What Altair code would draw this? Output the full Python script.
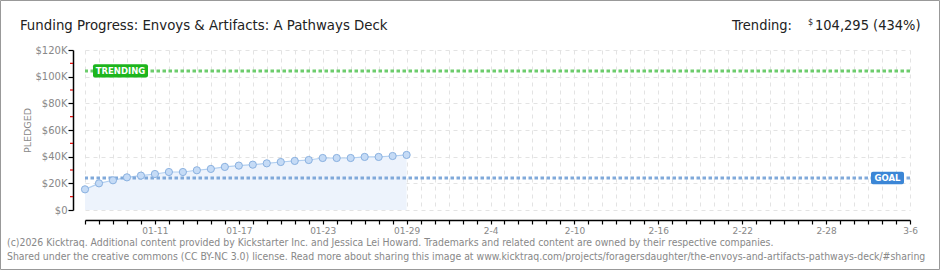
import altair as alt
import pandas as pd
from datetime import datetime, timedelta, timezone

# ---------------- data ----------------
DATES = ["2026-01-06", "2026-01-07", "2026-01-08", "2026-01-09", "2026-01-10", "2026-01-11",
         "2026-01-12", "2026-01-13", "2026-01-14", "2026-01-15", "2026-01-16", "2026-01-17",
         "2026-01-18", "2026-01-19", "2026-01-20", "2026-01-21", "2026-01-22", "2026-01-23",
         "2026-01-24", "2026-01-25", "2026-01-26", "2026-01-27", "2026-01-28", "2026-01-29"]
PLEDGED = [15500, 20000, 22300, 24500, 25800, 27000, 28500, 28500, 29800, 30800, 32300, 33300,
           34000, 35000, 36000, 36800, 37500, 39000, 39000, 39000, 39800, 39800, 40500, 41300]
GOAL = [24000]
TRENDING = [104295]
TRENDING_TEXT = ["104,295 (434%)"]

X_START = (2026, 1, 6)
X_END = (2026, 3, 6)
X_LABEL_DATES = [(2026, 1, 11), (2026, 1, 17), (2026, 1, 23), (2026, 1, 29), (2026, 2, 4),
                 (2026, 2, 10), (2026, 2, 16), (2026, 2, 22), (2026, 2, 28), (2026, 3, 6)]
X_LABELS = ["01-11", "01-17", "01-23", "01-29", "2-4", "2-10", "2-16", "2-22", "2-28", "3-6"]
Y_TICKS = [0, 20000, 40000, 60000, 80000, 100000, 120000]
Y_MINOR = [10000, 30000, 50000, 70000, 90000, 110000]
Y_LABELS = ["$0", "$20K", "$40K", "$60K", "$80K", "$100K", "$120K"]

TITLE = "Funding Progress: Envoys & Artifacts: A Pathways Deck"
FOOTER_1 = ("(c)2026 Kicktraq. Additional content provided by Kickstarter Inc. and Jessica Lei Howard. "
            "Trademarks and related content are owned by their respective companies.")
FOOTER_2 = ("Shared under the creative commons (CC BY-NC 3.0) license. Read more about sharing this image at "
            "www.kicktraq.com/projects/foragersdaughter/the-envoys-and-artifacts-pathways-deck/#sharing")

# ---------------- helpers ----------------
FONT = "DejaVu Sans"
COND_FONT = "DejaVu Sans Condensed"


def dt(t):
    return alt.DateTime(year=t[0], month=t[1], date=t[2], utc=True)


def ms(t):
    return int(datetime(t[0], t[1], t[2], tzinfo=timezone.utc).timestamp() * 1000)


start = datetime(*X_START, tzinfo=timezone.utc)
end = datetime(*X_END, tzinfo=timezone.utc)
day_ticks = []
d = start
while d <= end:
    day_ticks.append(dt((d.year, d.month, d.day)))
    d += timedelta(days=1)

ms_js = "[" + ",".join(str(ms(t)) for t in X_LABEL_DATES) + "]"
lab_js = "[" + ",".join("'" + s + "'" for s in X_LABELS) + "]"
x_label_expr = f"indexof({ms_js}, time(datum.value)) >= 0 ? {lab_js}[indexof({ms_js}, time(datum.value))] : ''"
ylab_js = "[" + ",".join("'" + s + "'" for s in Y_LABELS) + "]"
y_label_expr = f"{ylab_js}[round(datum.value / 20000)]"

x_scale = alt.Scale(type="utc", domain=[dt(X_START), dt(X_END)])
y_scale = alt.Scale(domain=[0, 120000], nice=False, zero=True)

x_axis = alt.Axis(
    values=day_ticks, labelExpr=x_label_expr, title=None,
    offset=10, domainColor="#000", domainWidth=1.5,
    tickColor="#000", tickSize=4, tickWidth=1.2,
    labelFont=FONT, labelFontSize=9, labelColor="#888", labelPadding=2,
    labelAngle=0, labelAlign="center", labelOverlap=False, labelFlush=False,
    grid=True, gridColor="#e3e3e3", gridDash=[4, 4], gridWidth=1,
)
y_axis = alt.Axis(
    values=Y_TICKS, labelExpr=y_label_expr, title="PLEDGED",
    offset=12, domainColor="#000", domainWidth=1.5,
    tickColor="#000", tickSize=5, tickWidth=1.2,
    labelFont=FONT, labelFontSize=10, labelColor="#888", labelPadding=1,
    grid=True, gridColor="#e3e3e3", gridDash=[4, 4], gridWidth=1,
    titleFont=FONT, titleFontSize=9.5, titleColor="#888", titleFontWeight="normal",
    titleAngle=270, titleX=-46, titleY=80, titleAlign="center", titleBaseline="middle",
)


def X(field):
    return alt.X(field, type="temporal", scale=x_scale, axis=x_axis)


def Y(field):
    return alt.Y(field, type="quantitative", scale=y_scale, axis=y_axis)


df = pd.DataFrame({"date": DATES, "pledged": PLEDGED})
goal_df = pd.DataFrame({"v": GOAL})
trend_df = pd.DataFrame({"v": TRENDING, "t": TRENDING_TEXT})
minor_df = pd.DataFrame({"v": Y_MINOR})
one = alt.Data(values=[{}])

base = alt.Chart(df)
area = base.mark_area(color="#edf3fc", opacity=1).encode(x=X("date"), y=Y("pledged"))
line = base.mark_line(color="#b2cff0", strokeWidth=1.2).encode(x=X("date"), y=Y("pledged"))
pts = base.mark_point(shape="circle", size=52, filled=True, fill="#c5dbf6", stroke="#8ab1e0",
                      strokeWidth=1, opacity=1).encode(x=X("date"), y=Y("pledged"))

minor_ticks = alt.Chart(minor_df).mark_rule(color="#e00000", strokeWidth=1.2).encode(
    x=alt.value(-15), x2=alt.value(-12), y=Y("v"))

goal_rule = alt.Chart(goal_df).mark_rule(color="#80a9da", strokeDash=[3.5, 2.5], strokeWidth=3).encode(y=Y("v"))
trend_rule = alt.Chart(trend_df).mark_rule(color="#6ccc6c", strokeDash=[3.5, 2.5], strokeWidth=3).encode(y=Y("v"))

trend_box = alt.Chart(trend_df).transform_calculate(
    top="datum.v + 5000", bot="datum.v - 5000"
).mark_rect(fill="#1db51d", cornerRadius=2).encode(
    x=alt.value(8), x2=alt.value(63), y=Y("top:Q"), y2="bot:Q")
trend_lbl = alt.Chart(trend_df).mark_text(
    text="TRENDING", color="white", font=FONT, fontSize=8.5, fontWeight="bold", align="center", baseline="middle"
).encode(x=alt.value(35.5), y=Y("v"))

goal_box = alt.Chart(goal_df).transform_calculate(
    top="datum.v + 4700", bot="datum.v - 4700"
).mark_rect(fill="#3b86d6", cornerRadius=2).encode(
    x=alt.value(786), x2=alt.value(819), y=Y("top:Q"), y2="bot:Q")
goal_lbl = alt.Chart(goal_df).mark_text(
    text="GOAL", color="white", font=FONT, fontSize=8.5, fontWeight="bold", align="center", baseline="middle"
).encode(x=alt.value(802.5), y=Y("v"))

title = alt.Chart(one).mark_text(
    text=TITLE, font=COND_FONT, fontSize=14.8, color="#222", align="left", baseline="alphabetic"
).encode(x=alt.value(-65), y=alt.value(-20.5))
trend_word = alt.Chart(one).mark_text(
    text="Trending:", font=COND_FONT, fontSize=14.5, color="#222", align="right", baseline="alphabetic"
).encode(x=alt.value(707), y=alt.value(-20.5))
dollar = alt.Chart(one).mark_text(
    text="$", font=COND_FONT, fontSize=9, color="#222", align="left", baseline="alphabetic"
).encode(x=alt.value(723), y=alt.value(-25))
trend_num = alt.Chart(trend_df).mark_text(
    font=COND_FONT, fontSize=14.5, color="#222", align="left", baseline="alphabetic"
).encode(text="t:N", x=alt.value(730), y=alt.value(-20.5))
foot1 = alt.Chart(one).mark_text(
    text=FOOTER_1, font=COND_FONT, fontSize=10.4, color="#888", align="left", baseline="alphabetic"
).encode(x=alt.value(-78), y=alt.value(195.5))
foot2 = alt.Chart(one).mark_text(
    text=FOOTER_2, font=COND_FONT, fontSize=10.4, color="#888", align="left", baseline="alphabetic"
).encode(x=alt.value(-78), y=alt.value(209.5))
frame = alt.Chart(one).mark_rect(fill=None, stroke="#999", strokeWidth=1).encode(
    x=alt.value(-84.5), x2=alt.value(854.5), y=alt.value(-49.5), y2=alt.value(219.5))

chart = alt.layer(
    area, line, minor_ticks, goal_rule, trend_rule, pts, trend_box, trend_lbl, goal_box, goal_lbl,
    title, trend_word, dollar, trend_num, foot1, foot2, frame
).properties(
    width=825, height=160,
    autosize=alt.AutoSizeParams(type="none"),
    padding={"left": 85, "top": 50, "right": 30, "bottom": 60},
    background="white",
).configure_view(stroke=None)

chart.save("out.html", embed_options={"renderer": "svg", "actions": False})
